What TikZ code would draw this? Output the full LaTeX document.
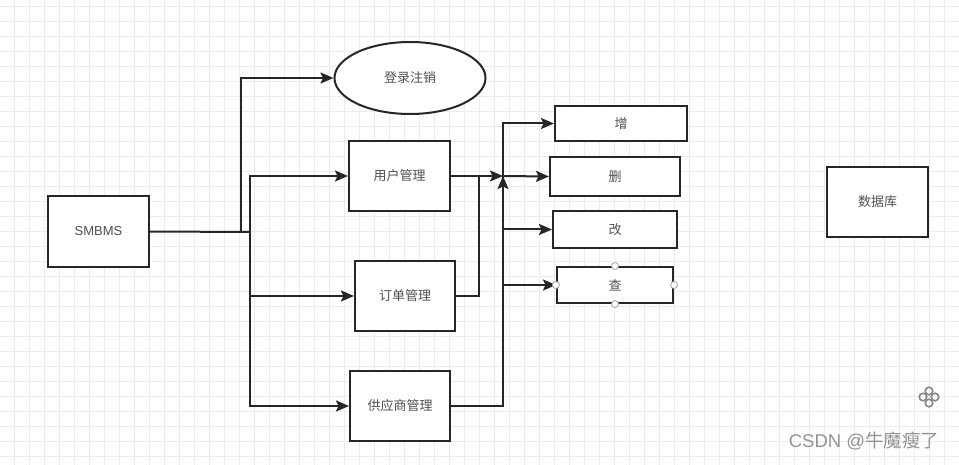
\documentclass[tikz,border=0pt]{standalone}
\usepackage{fontspec}
\setmainfont{Liberation Sans}
\newfontfamily\cjk{Noto Sans CJK SC}
\usetikzlibrary{arrows.meta,shapes.geometric,calc}
\definecolor{cline}{RGB}{38,38,38}
\definecolor{ctext}{RGB}{80,80,80}
\definecolor{cgrid}{RGB}{236,236,236}
\tikzset{flowpic/.style={x=1pt,y=-1pt,font=\cjk\fontsize{13}{15}\selectfont},
  box/.style={draw=cline,line width=2pt,fill=white,text=ctext,inner sep=0pt},
  wire/.style={cline,line width=2pt},
  arr/.style={wire,-{Stealth[length=13pt,width=11pt,inset=2.5pt]}},
  handle/.style={draw=gray!70,fill=white,line width=0.8pt}}

\begin{document}
\begin{tikzpicture}[flowpic]
    \useasboundingbox (0,0) rectangle (959,465);
    \fill[white] (0,0) rectangle (959,465);
    % grid
    \foreach \gx in {14,29,...,959} \draw[cgrid,line width=0.6pt] (\gx,0) -- (\gx,465);
    \foreach \gy in {6,21,...,465} \draw[cgrid,line width=0.6pt] (0,\gy) -- (959,\gy);
    % nodes
    \node[box,minimum width=101pt,minimum height=71pt,font=\rmfamily\fontsize{13}{15}\selectfont] (smbms) at (98.5,231.5) {SMBMS};
    \node[box,ellipse,minimum width=151pt,minimum height=72pt] (login) at (410,78) {登录注销};
    \node[box,minimum width=101pt,minimum height=70pt] (user) at (399.5,176) {用户管理};
    \node[box,minimum width=100pt,minimum height=70pt] (order) at (405,296) {订单管理};
    \node[box,minimum width=100pt,minimum height=70pt] (supplier) at (400,406) {供应商管理};
    \node[box,minimum width=132pt,minimum height=35pt] (add) at (621,123.5) {增};
    \node[box,minimum width=130pt,minimum height=39pt] (del) at (615,176.5) {删};
    \node[box,minimum width=124pt,minimum height=37pt] (mod) at (615,229.5) {改};
    \node[box,minimum width=116pt,minimum height=36pt] (qry) at (615,285) {查};
    \node[box,minimum width=101pt,minimum height=70pt] (db) at (877.5,202) {数据库};
    % left branches
    \coordinate (b1) at (241,232);
    \coordinate (b2) at (250,232);
    \draw[wire] (smbms.east) -- (b2);
    \draw[arr] (b1) |- (login.west);
    \draw[arr] (b2) |- (user.west);
    \draw[arr] (b2) |- (order.west);
    \draw[arr] (b2) |- (supplier.west);
    % right branches
    \coordinate (hub) at (503,176);
    \coordinate (j1) at (479,176);
    \draw[arr] (user.east) -- (hub);
    \draw[wire] (order.east) -| (j1);
    \draw[arr] (supplier.east) -| (hub);
    \draw[arr] (hub) |- (add.west);
    \draw[arr] (hub) -- (del.west);
    \draw[arr] (hub) |- (mod.west);
    \draw[arr] (hub) |- (qry.west);
    \foreach \a in {north,south,east,west} \draw[handle] (qry.\a) circle[radius=3.5pt];
    % move icon
    \coordinate (icon) at (929,397);
    \foreach \dx/\dy in {0/-6,6/0,0/6,-6/0} \draw[gray!95,line width=1.6pt] ($(icon)+(\dx,\dy)$) circle[radius=3.8pt];
    \node[text=gray!85,font=\cjk\fontsize{18.5}{20}\selectfont] (mark) at (864,441) {{\rmfamily CSDN @}牛魔瘦了};
\end{tikzpicture}
\end{document}
